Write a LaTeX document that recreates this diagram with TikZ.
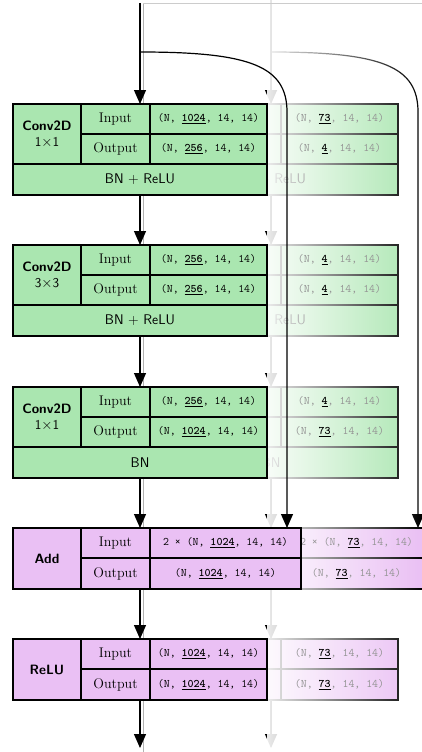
\documentclass[tikz,border=0pt]{standalone}
\usetikzlibrary{arrows.meta,fadings}
\definecolor{cgreen}{HTML}{AAE6B0}
\definecolor{cpurple}{HTML}{EAC0F4}
\tikzfading[name=ghostfade, left color=transparent!8, right color=transparent!100]
\tikzset{
  cell/.style={draw=black, line width=1.2pt, inner sep=0pt, outer sep=0pt, anchor=north west, align=center},
  lab/.style={font=\fontsize{14}{16}\selectfont},
  val/.style={font=\fontsize{11.5}{13}\selectfont\ttfamily},
  ttl/.style={font=\fontsize{13.5}{17}\selectfont\sffamily\bfseries},
  bot/.style={font=\fontsize{14}{16}\selectfont\sffamily},
  arr/.style={line width=1.2pt, -{Triangle[width=12pt,length=14pt]}},
  faint/.style={draw=black!30, line width=0.9pt},
}
\newcommand{\mnum}[1]{\underline{\textbf{#1}}}
\newcommand{\gnum}[1]{{\color{black}\underline{\textbf{#1}}}}
\newcommand{\lblIn}{}
\newcommand{\lblOut}{}
% #1 prefix #2 dx #3 ytop #4 title #5 inval #6 outval #7 bottom #8 fill
\newcommand{\threeblk}[8]{%
  \node[cell, fill=#8, ttl, minimum width=68pt, minimum height=60pt] (#1t) at (13+#2,#3) {#4};
  \node[cell, fill=#8, lab, minimum width=69pt, minimum height=30pt] (#1i) at (81+#2,#3) {\lblIn};
  \node[cell, fill=#8, val, minimum width=117pt, minimum height=30pt] (#1iv) at (150+#2,#3) {#5};
  \node[cell, fill=#8, lab, minimum width=69pt, minimum height=30pt] (#1o) at (81+#2,#3+30) {\lblOut};
  \node[cell, fill=#8, val, minimum width=117pt, minimum height=30pt] (#1ov) at (150+#2,#3+30) {#6};
  \node[cell, fill=#8, bot, minimum width=254pt, minimum height=31pt] (#1b) at (13+#2,#3+60) {#7};
}
% #1 prefix #2 dx #3 ytop #4 title #5 in #6 out #7 value width
\newcommand{\twoblk}[7]{%
  \node[cell, fill=cpurple, ttl, minimum width=68pt, minimum height=61pt] (#1t) at (13+#2,#3) {#4};
  \node[cell, fill=cpurple, lab, minimum width=69pt, minimum height=30pt] (#1i) at (81+#2,#3) {\lblIn};
  \node[cell, fill=cpurple, val, minimum width=#7pt, minimum height=30pt] (#1iv) at (150+#2,#3) {#5};
  \node[cell, fill=cpurple, lab, minimum width=69pt, minimum height=31pt] (#1o) at (81+#2,#3+30) {\lblOut};
  \node[cell, fill=cpurple, val, minimum width=#7pt, minimum height=31pt] (#1ov) at (150+#2,#3+30) {#6};
}
\begin{document}
\begin{tikzpicture}[x=1pt, y=-1pt]
\useasboundingbox (0,0) rectangle (422,752);
% coordinates
\coordinate (in) at (140,3);
\coordinate (split) at (140,52);
\coordinate (out) at (140,748);
\coordinate (skc) at (287,112);
\coordinate (gin) at (271,0);
\coordinate (gsplit) at (271,52);
\coordinate (gout) at (271,748);
\coordinate (gskc) at (418,112);
\coordinate (tl) at (143,3);
\coordinate (tr) at (422,3);
\coordinate (bl) at (143,752);
% faint line behind main column
\draw[faint] (bl) -- (tl);
% ===== ghost copy =====
\threeblk{g1}{131}{104}{}{}{}{BN + ReLU}{cgreen}
\threeblk{g2}{131}{245}{}{}{}{BN + ReLU}{cgreen}
\threeblk{g3}{131}{387}{}{}{}{BN}{cgreen}
\twoblk{g4}{131}{528}{}{}{}{151}
\twoblk{g5}{131}{639}{}{}{}{117}
\draw[arr] (gin) -- (gin |- g1t.north);
\draw[arr] (gin |- g1b.south) -- (gin |- g2t.north);
\draw[arr] (gin |- g2b.south) -- (gin |- g3t.north);
\draw[arr] (gin |- g3b.south) -- (gin |- g4t.north);
\draw[arr] (gin |- g4t.south) -- (gin |- g5t.north);
\draw[arr] (gin |- g5t.south) -- (gout);
\draw[arr] (gsplit) .. controls (381,52) and (418,66) .. (gskc) -- (gskc |- g4t.north);
% fade
\fill[white, path fading=ghostfade] (267,-5) rectangle (422,757);
% ghost values
\node[val, text=black!42] (g1ivt) at (g1iv.center) {(N, \gnum{73}, 14, 14)};
\node[val, text=black!42] (g1ovt) at (g1ov.center) {(N, \gnum{4}, 14, 14)};
\node[val, text=black!42] (g2ivt) at (g2iv.center) {(N, \gnum{4}, 14, 14)};
\node[val, text=black!42] (g2ovt) at (g2ov.center) {(N, \gnum{4}, 14, 14)};
\node[val, text=black!42] (g3ivt) at (g3iv.center) {(N, \gnum{4}, 14, 14)};
\node[val, text=black!42] (g3ovt) at (g3ov.center) {(N, \gnum{73}, 14, 14)};
\node[val, text=black!42] (g4ivt) at (g4iv.center) {2 × (N, \gnum{73}, 14, 14)};
\node[val, text=black!42] (g4ovt) at (g4ov.center) {(N, \gnum{73}, 14, 14)};
\node[val, text=black!42] (g5ivt) at (g5iv.center) {(N, \gnum{73}, 14, 14)};
\node[val, text=black!42] (g5ovt) at (g5ov.center) {(N, \gnum{73}, 14, 14)};
\draw[draw=black!20, line width=0.9pt] (tl) -- (tr);
% ===== main =====
\renewcommand{\lblIn}{Input}
\renewcommand{\lblOut}{Output}
\threeblk{m1}{0}{104}{Conv2D\\[-1pt]{\mdseries 1$\times$1}}{(N, \mnum{1024}, 14, 14)}{(N, \mnum{256}, 14, 14)}{BN + ReLU}{cgreen}
\threeblk{m2}{0}{245}{Conv2D\\[-1pt]{\mdseries 3$\times$3}}{(N, \mnum{256}, 14, 14)}{(N, \mnum{256}, 14, 14)}{BN + ReLU}{cgreen}
\threeblk{m3}{0}{387}{Conv2D\\[-1pt]{\mdseries 1$\times$1}}{(N, \mnum{256}, 14, 14)}{(N, \mnum{1024}, 14, 14)}{BN}{cgreen}
\twoblk{m4}{0}{528}{Add}{2 × (N, \mnum{1024}, 14, 14)}{(N, \mnum{1024}, 14, 14)}{151}
\twoblk{m5}{0}{639}{ReLU}{(N, \mnum{1024}, 14, 14)}{(N, \mnum{1024}, 14, 14)}{117}
\draw[arr] (in) -- (in |- m1t.north);
\draw[arr] (in |- m1b.south) -- (in |- m2t.north);
\draw[arr] (in |- m2b.south) -- (in |- m3t.north);
\draw[arr] (in |- m3b.south) -- (in |- m4t.north);
\draw[arr] (in |- m4t.south) -- (in |- m5t.north);
\draw[arr] (in |- m5t.south) -- (out);
\draw[arr] (split) .. controls (250,52) and (287,66) .. (skc) -- (skc |- m4t.north);
\end{tikzpicture}
\end{document}
